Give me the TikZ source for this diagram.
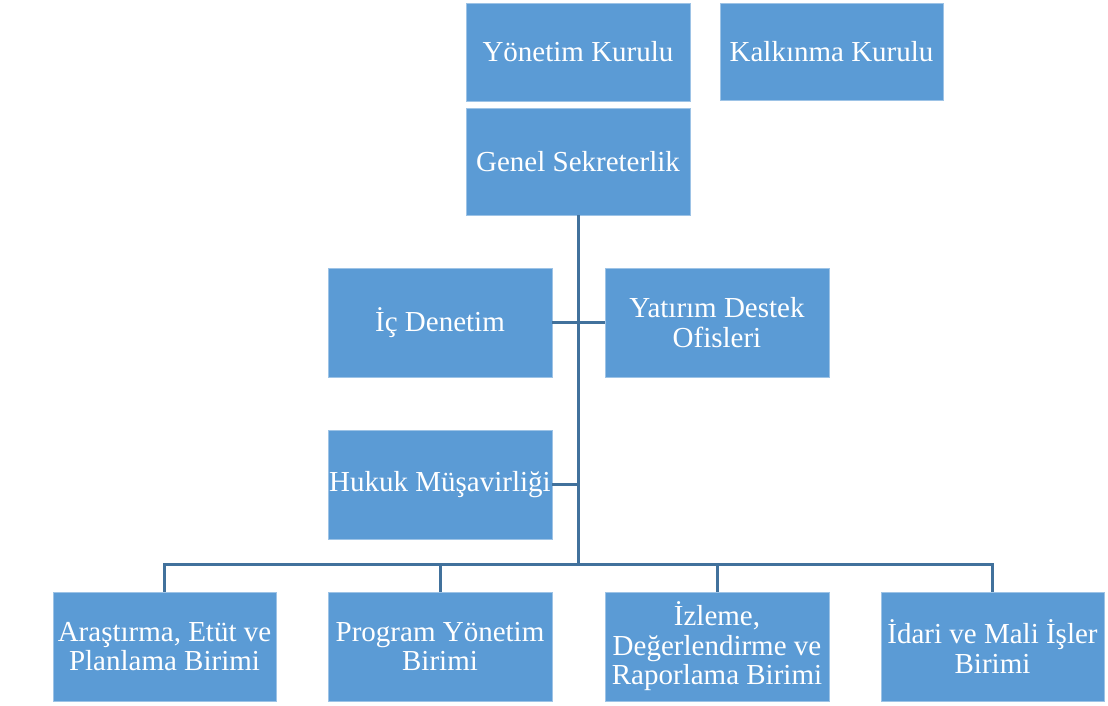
\documentclass[tikz,border=0pt]{standalone}
\usepackage{fontspec}
\setmainfont{Liberation Serif}
\definecolor{kutumavi}{HTML}{5B9BD5}
\definecolor{kenarmavi}{HTML}{9DC3E6}
\definecolor{cizgimavi}{HTML}{41719C}

\tikzset{
    kutu/.style args={#1/#2}{
        rectangle, fill=kutumavi, draw=kenarmavi, line width=0.8pt,
        minimum width=#1, minimum height=#2, inner sep=0pt,
        text=white, align=center, font=\fontsize{29}{29.5}\selectfont
    },
    baglanti/.style={draw=cizgimavi, line width=3pt}
}

\begin{document}
\begin{tikzpicture}[x=1pt,y=-1pt]
                      \useasboundingbox (0,0) rectangle (1108,706);
                      \node[kutu=224/98] (yonetim) at (578,52) {Yönetim Kurulu};
                      \node[kutu=223/97] (kalkinma) at (831.5,51.5) {Kalkınma Kurulu};
                      \node[kutu=224/107] (genel) at (578,161.5) {Genel Sekreterlik};

                      \node[kutu=224/109] (icdenetim) at (440,322.5) {İç Denetim};
                      \node[kutu=224/109] (yatirim) at (717,322.5) {Yatırım Destek\\Ofisleri};
                      \node[kutu=224/109] (hukuk) at (440,484.5) {Hukuk Müşavirliği};

                      \node[kutu=223/109] (arastirma) at (164.5,646.5) {Araştırma, Etüt ve\\Planlama Birimi};
                      \node[kutu=224/109] (program) at (440,646.5) {Program Yönetim\\Birimi};
                      \node[kutu=224/109] (izleme) at (717,646.5) {İzleme,\\Değerlendirme ve\\Raporlama Birimi};
                      \node[kutu=223/109] (idari) at (992.5,646.5) {İdari ve Mali İşler\\Birimi};

                      \coordinate (bus) at (578,564);
                      \draw[baglanti] (genel.south) -- (bus);
                      \draw[baglanti] (icdenetim.east) -- (yatirim.west);
                      \draw[baglanti] (hukuk.east) -- (hukuk.east -| bus);
                      \draw[baglanti] (arastirma.north) |- (bus) -| (idari.north);
                      \foreach \birim in {program,izleme}
                          \draw[baglanti] (\birim.north) -- (\birim.north |- bus);
                  \end{tikzpicture}
\end{document}
